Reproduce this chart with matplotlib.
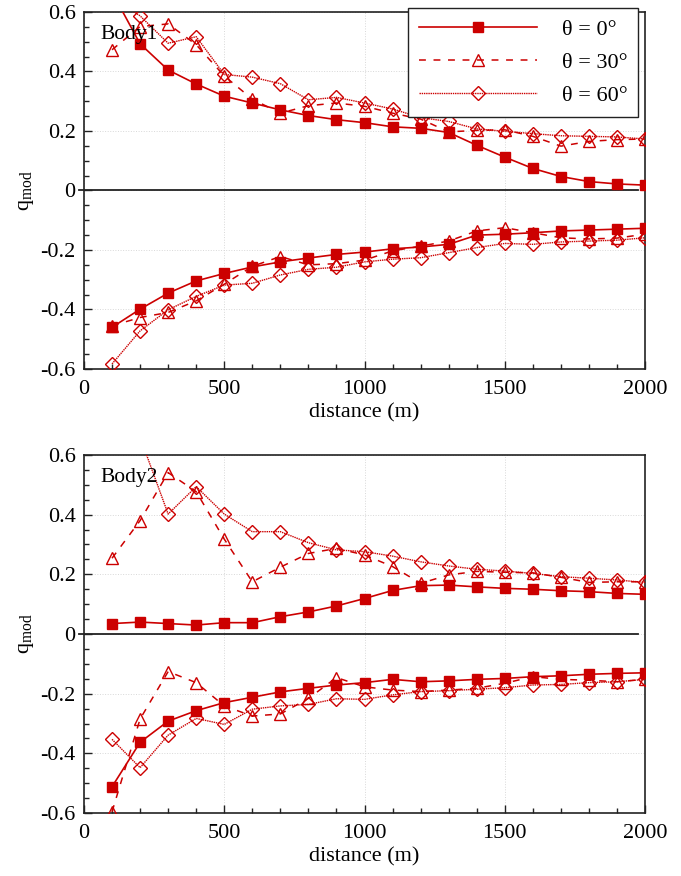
import matplotlib
matplotlib.use('Agg')
import matplotlib.pyplot as plt
from matplotlib.ticker import MultipleLocator

plt.rcParams['font.family'] = ['Liberation Serif', 'DejaVu Serif']
plt.rcParams['mathtext.fontset'] = 'custom'
plt.rcParams['mathtext.rm'] = 'Liberation Serif'
plt.rcParams['axes.unicode_minus'] = False

distance = list(range(100, 2100, 100))

# Body1 (top panel)
b1_t0_pos = [0.667, 0.493, 0.405, 0.358, 0.317, 0.294, 0.271, 0.252, 0.238, 0.228,
             0.214, 0.209, 0.195, 0.152, 0.112, 0.074, 0.047, 0.030, 0.022, 0.018]
b1_t30_pos = [0.473, 0.551, 0.560, 0.490, 0.385, 0.307, 0.260, 0.285, 0.294, 0.283,
              0.260, 0.240, 0.197, 0.202, 0.204, 0.182, 0.149, 0.165, 0.171, 0.173]
b1_t60_pos = [0.650, 0.587, 0.495, 0.517, 0.390, 0.381, 0.359, 0.305, 0.313, 0.294,
              0.274, 0.245, 0.232, 0.207, 0.199, 0.191, 0.184, 0.182, 0.180, 0.173]
b1_t0_neg = [-0.460, -0.399, -0.345, -0.304, -0.279, -0.257, -0.240, -0.227, -0.215, -0.207,
             -0.196, -0.190, -0.181, -0.150, -0.147, -0.142, -0.136, -0.133, -0.130, -0.127]
b1_t30_neg = [-0.455, -0.427, -0.410, -0.371, -0.315, -0.255, -0.222, -0.250, -0.246, -0.234,
              -0.203, -0.187, -0.170, -0.136, -0.125, -0.142, -0.159, -0.163, -0.160, -0.147]
b1_t60_neg = [-0.583, -0.472, -0.401, -0.356, -0.318, -0.312, -0.284, -0.265, -0.258, -0.240,
              -0.231, -0.226, -0.209, -0.192, -0.178, -0.181, -0.173, -0.170, -0.167, -0.159]

# Body2 (bottom panel)
b2_t0_pos = [0.035, 0.040, 0.035, 0.030, 0.038, 0.038, 0.058, 0.074, 0.094, 0.119,
             0.146, 0.162, 0.164, 0.158, 0.153, 0.150, 0.145, 0.142, 0.136, 0.133]
b2_t30_pos = [0.254, 0.380, 0.541, 0.477, 0.318, 0.175, 0.224, 0.270, 0.287, 0.265,
              0.226, 0.170, 0.198, 0.210, 0.207, 0.205, 0.190, 0.173, 0.175, 0.175]
b2_t60_pos = [0.750, 0.660, 0.402, 0.494, 0.402, 0.343, 0.343, 0.306, 0.282, 0.276,
              0.261, 0.242, 0.228, 0.217, 0.211, 0.203, 0.192, 0.187, 0.181, 0.173]
b2_t0_neg = [-0.512, -0.363, -0.292, -0.257, -0.230, -0.212, -0.194, -0.182, -0.171, -0.163,
             -0.152, -0.160, -0.157, -0.152, -0.149, -0.143, -0.140, -0.135, -0.132, -0.130]
b2_t30_neg = [-0.596, -0.285, -0.126, -0.163, -0.241, -0.275, -0.268, -0.216, -0.146, -0.177,
              -0.188, -0.193, -0.188, -0.182, -0.165, -0.143, -0.152, -0.155, -0.160, -0.152]
b2_t60_neg = [-0.353, -0.448, -0.339, -0.283, -0.303, -0.252, -0.241, -0.236, -0.217, -0.219,
              -0.204, -0.193, -0.190, -0.185, -0.180, -0.171, -0.169, -0.163, -0.160, -0.152]

labels = ['θ = 0°', 'θ = 30°', 'θ = 60°']
RED = '#cc0000'
FS = 16
STYLES = [
    dict(marker='s', ms=7.5, ls='-', lw=1.2, mfc=RED, mec=RED),
    dict(marker='^', ms=9, ls=(0, (4.5, 5)), lw=1.1, mfc='none', mec=RED, mew=1.0),
    dict(marker='D', ms=7, ls=(0, (1, 0.6)), lw=1.0, mfc='none', mec=RED, mew=1.0),
]


def style_axes(ax):
    ax.set_xlim(0, 2000)
    ax.set_ylim(-0.6, 0.6)
    ax.xaxis.set_major_locator(MultipleLocator(500))
    ax.xaxis.set_minor_locator(MultipleLocator(100))
    ax.yaxis.set_minor_locator(MultipleLocator(0.05))
    ax.set_yticks([-0.6, -0.4, -0.2, 0, 0.2, 0.4, 0.6])
    ax.set_yticklabels(['-0.6', '-0.4', '-0.2', '0', '0.2', '0.4', '0.6'])
    ax.tick_params(which='both', direction='in', top=False, right=False,
                   labelsize=FS, color='#222222')
    ax.tick_params(which='major', length=5.5, width=1.0)
    ax.tick_params(axis='x', which='major', pad=8)
    ax.tick_params(axis='y', which='major', pad=6)
    ax.tick_params(which='minor', length=3.8, width=1.0)
    for sp in ax.spines.values():
        sp.set_linewidth(1.2)
        sp.set_color('#222222')
    ax.grid(True, which='major', ls=':', lw=0.7, color='#d8d8d8')
    ax.axhline(0, xmin=-0.008, xmax=0.988, color='#222222', lw=1.3,
               clip_on=False, zorder=2)
    ax.set_xlabel('distance (m)', fontsize=FS, labelpad=3)
    ax.set_ylabel(r'q$_\mathregular{mod}$', fontsize=FS, labelpad=3)


def draw_panel(ax, pos_series, neg_series, name):
    handles = []
    for i in range(3):
        st = STYLES[i]
        h, = ax.plot(distance, pos_series[i], color=RED, zorder=3, **st)
        ax.plot(distance, neg_series[i], color=RED, zorder=3, **st)
        handles.append(h)
    ax.text(0.030, 0.936, name, transform=ax.transAxes, fontsize=15.5,
            va='center', ha='left', zorder=5)
    style_axes(ax)
    return handles


fig = plt.figure(figsize=(6.81, 8.76), dpi=100)
ax1 = fig.add_axes([0.1233, 0.5788, 0.824, 0.4075])
ax2 = fig.add_axes([0.1233, 0.0719, 0.824, 0.4087])

h = draw_panel(ax1, [b1_t0_pos, b1_t30_pos, b1_t60_pos],
               [b1_t0_neg, b1_t30_neg, b1_t60_neg], 'Body1')
draw_panel(ax2, [b2_t0_pos, b2_t30_pos, b2_t60_pos],
           [b2_t0_neg, b2_t30_neg, b2_t60_neg], 'Body2')

leg = ax1.legend(h, labels, loc='upper right', bbox_to_anchor=(0.988, 1.011),
                 borderaxespad=0, fontsize=16, numpoints=1, handlelength=5.3,
                 handletextpad=1.1, labelspacing=0.56, borderpad=0.5,
                 fancybox=False, framealpha=1, edgecolor='#222222')
leg.get_frame().set_linewidth(1.0)
leg.set_zorder(10)

fig.savefig('out.png', dpi=100)
